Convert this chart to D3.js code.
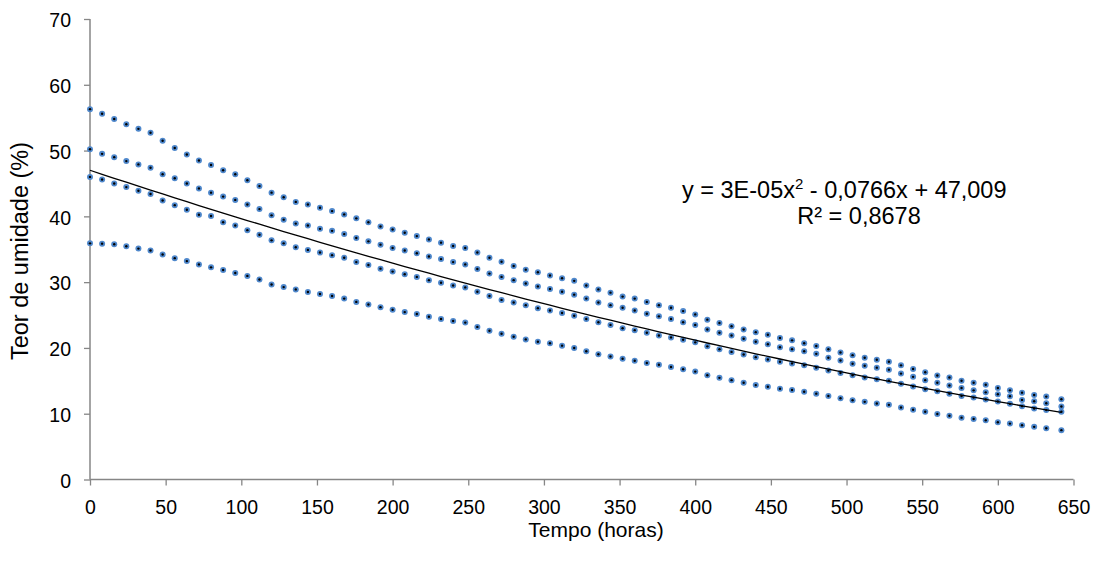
<!DOCTYPE html>
<html>
<head>
<meta charset="utf-8">
<script src="https://cdn.jsdelivr.net/npm/d3@7/dist/d3.min.js"></script>
<style>
  html, body { margin: 0; padding: 0; background: #fff; }
  svg { display: block; font-family: "Liberation Sans", Arial, sans-serif; }
</style>
</head>
<body>
<svg id="chart" width="1100" height="561"></svg>
<script>
// Drying time (hours) shared by all four samples
const hours = [0, 8, 16, 24, 32, 40, 48, 56, 64, 72, 80, 88, 96, 104, 112, 120, 128, 136, 144, 152,
  160, 168, 176, 184, 192, 200, 208, 216, 224, 232, 240, 248, 256, 264, 272, 280, 288, 296, 304, 312,
  320, 328, 336, 344, 352, 360, 368, 376, 384, 392, 400, 408, 416, 424, 432, 440, 448, 456, 464, 472,
  480, 488, 496, 504, 512, 520, 528, 536, 544, 552, 560, 568, 576, 584, 592, 600, 608, 616, 624, 632, 642];

// Moisture content (%) of each sample
const sample1 = [56.3, 55.6, 54.8, 54.0, 53.3, 52.7, 51.5, 50.4, 49.4, 48.5, 47.8, 47.0, 46.4, 45.5, 44.6, 43.6,
  42.9, 42.2, 41.8, 41.3, 40.8, 40.3, 39.7, 39.1, 38.45, 38.0, 37.5, 37.0, 36.5, 36.0, 35.5, 35.2, 34.5, 33.7,
  33.1, 32.45, 31.9, 31.5, 31.0, 30.6, 30.2, 29.5, 28.9, 28.4, 27.8, 27.5, 27.0, 26.5, 26.1, 25.6, 25.1, 24.3,
  23.8, 23.3, 22.8, 22.4, 22.0, 21.5, 21.15, 20.7, 20.3, 19.8, 19.3, 18.9, 18.5, 18.2, 17.9, 17.35, 16.8, 16.3,
  15.8, 15.5, 15.0, 14.7, 14.4, 13.9, 13.55, 13.2, 12.85, 12.6, 12.2];
const sample2 = [50.2, 49.5, 49.0, 48.4, 47.9, 47.4, 46.4, 45.8, 45.0, 44.25, 43.6, 43.0, 42.5, 41.8, 41.1, 40.15,
  39.5, 38.9, 38.6, 38.1, 37.8, 37.3, 36.7, 36.2, 35.7, 35.2, 34.8, 34.4, 33.9, 33.5, 33.05, 32.7, 32.0, 31.3,
  30.8, 30.3, 29.8, 29.35, 28.95, 28.55, 28.1, 27.5, 26.9, 26.5, 26.1, 25.7, 25.2, 24.8, 24.4, 23.9, 23.5, 22.8,
  22.3, 21.9, 21.4, 20.95, 20.55, 20.1, 19.8, 19.5, 19.1, 18.5, 18.1, 17.6, 17.3, 17.0, 16.7, 16.1, 15.6, 15.1,
  14.7, 14.3, 13.9, 13.55, 13.25, 12.95, 12.65, 12.1, 11.9, 11.6, 11.1];
const sample3 = [46.0, 45.6, 45.0, 44.45, 43.9, 43.4, 42.4, 41.7, 41.0, 40.25, 40.05, 39.1, 38.6, 37.9, 37.2, 36.35,
  35.9, 35.3, 34.9, 34.5, 34.1, 33.7, 33.05, 32.6, 32.05, 31.6, 31.2, 30.8, 30.3, 29.9, 29.5, 29.2, 28.55, 27.9,
  27.3, 26.9, 26.5, 26.05, 25.7, 25.3, 24.9, 24.4, 23.9, 23.5, 23.0, 22.7, 22.3, 21.9, 21.6, 21.25, 20.85, 20.24,
  19.8, 19.4, 19.0, 18.6, 18.25, 17.9, 17.65, 17.35, 17.0, 16.55, 16.2, 15.85, 15.5, 15.25, 15.0, 14.55, 14.15,
  13.7, 13.4, 13.05, 12.7, 12.45, 12.15, 11.85, 11.5, 11.15, 10.8, 10.55, 10.3];
const sample4 = [35.9, 35.85, 35.75, 35.45, 35.1, 34.8, 34.2, 33.65, 33.2, 32.7, 32.25, 31.85, 31.4, 30.95, 30.4,
  29.65, 29.25, 28.9, 28.5, 28.2, 27.9, 27.5, 27.0, 26.6, 26.2, 25.8, 25.45, 25.15, 24.75, 24.4, 24.1, 23.85, 23.2,
  22.6, 22.15, 21.7, 21.3, 20.95, 20.7, 20.35, 20.0, 19.5, 19.05, 18.7, 18.35, 18.05, 17.7, 17.45, 17.1, 16.75,
  16.4, 15.85, 15.45, 15.1, 14.7, 14.35, 14.1, 13.8, 13.6, 13.35, 13.05, 12.7, 12.35, 12.05, 11.8, 11.55, 11.35,
  10.95, 10.6, 10.3, 9.95, 9.7, 9.4, 9.2, 9.0, 8.7, 8.5, 8.25, 8.0, 7.8, 7.5];

// Quadratic trend: y = a*x^2 + b*x + c
const trendCoef = [3e-5, -0.0766, 47.009];

const xTicks = [0, 50, 100, 150, 200, 250, 300, 350, 400, 450, 500, 550, 600, 650];
const yTicks = [0, 10, 20, 30, 40, 50, 60, 70];

const svg = d3.select("#chart");
const plotLeft = 90, plotRight = 1073.5, plotTop = 19, plotBottom = 479.5;

const x = d3.scaleLinear().domain([0, 650]).range([plotLeft, plotRight]);
const y = d3.scaleLinear().domain([0, 70]).range([plotBottom, plotTop]);

const axisColor = "#868686";

// Y axis
const yAxis = svg.append("g")
  .attr("transform", `translate(${plotLeft},0)`)
  .call(d3.axisLeft(y).tickValues(yTicks).tickSize(6).tickPadding(13).tickFormat(d3.format("d")));
// X axis
const xAxis = svg.append("g")
  .attr("transform", `translate(0,${plotBottom})`)
  .call(d3.axisBottom(x).tickValues(xTicks).tickSize(6).tickPadding(15).tickFormat(d3.format("d")));

[yAxis, xAxis].forEach(g => {
  g.select(".domain").attr("stroke", axisColor).attr("stroke-width", 1.5);
  g.selectAll(".tick line").attr("stroke", axisColor).attr("stroke-width", 1.3);
  g.selectAll(".tick text").attr("fill", "#000").style("font-size", "19.5px");
});
yAxis.selectAll(".tick text").attr("dy", "0.4em");
// plain axis lines without the end caps
yAxis.select(".domain").attr("d", `M0,${plotBottom}V${plotTop}`);
xAxis.select(".domain").attr("d", `M${plotLeft},0H${plotRight}`);

// Data markers: blue disc with a black centre
const series = [sample1, sample2, sample3, sample4];
const marks = svg.append("g");
series.forEach(vals => {
  const pts = hours.map((h, i) => [h, vals[i]]);
  marks.append("g").selectAll("circle").data(pts).join("circle")
    .attr("cx", d => x(d[0])).attr("cy", d => y(d[1])).attr("r", 3.0)
    .attr("fill", "#4f88cc");
  marks.append("g").selectAll("circle").data(pts).join("circle")
    .attr("cx", d => x(d[0])).attr("cy", d => y(d[1])).attr("r", 1.2)
    .attr("fill", "#000");
});

// Trend line
const trend = h => trendCoef[0] * h * h + trendCoef[1] * h + trendCoef[2];
svg.append("path")
  .datum(hours)
  .attr("fill", "none").attr("stroke", "#000").attr("stroke-width", 1.3)
  .attr("d", d3.line().x(h => x(h)).y(h => y(trend(h))));

// Equation label
const eq = svg.append("text").attr("x", 682).attr("y", 197.5).style("font-size", "23.5px").attr("fill", "#000");
eq.append("tspan").text("y = 3E-05x");
eq.append("tspan").attr("dy", -9).style("font-size", "15px").text("2");
eq.append("tspan").attr("dy", 9).text(" - 0,0766x + 47,009");
svg.append("text").attr("x", 859).attr("y", 223.5).attr("text-anchor", "middle")
  .style("font-size", "23.5px").attr("fill", "#000")
  .text("R² = 0,8678");

// Axis titles
svg.append("text").attr("x", 596).attr("y", 537).attr("text-anchor", "middle")
  .style("font-size", "21px").text("Tempo (horas)");
svg.append("text").attr("transform", "translate(28,251) rotate(-90)").attr("text-anchor", "middle")
  .style("font-size", "23.5px").text("Teor de umidade (%)");
</script>
</body>
</html>
